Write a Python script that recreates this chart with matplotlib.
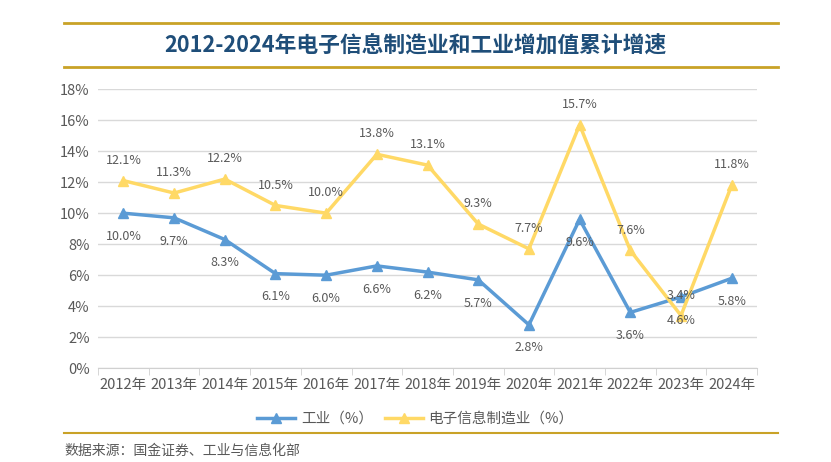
import matplotlib.pyplot as plt
import numpy as np

plt.rcParams['font.family'] = ['Noto Sans CJK SC', 'DejaVu Sans']

years = ['2012年', '2013年', '2014年', '2015年', '2016年', '2017年', '2018年',
         '2019年', '2020年', '2021年', '2022年', '2023年', '2024年']
industry = [10.0, 9.7, 8.3, 6.1, 6.0, 6.6, 6.2, 5.7, 2.8, 9.6, 3.6, 4.6, 5.8]
electronics = [12.1, 11.3, 12.2, 10.5, 10.0, 13.8, 13.1, 9.3, 7.7, 15.7, 7.6, 3.4, 11.8]
yticks = [0, 2, 4, 6, 8, 10, 12, 14, 16, 18]

blue = '#5B9BD5'
yellow = '#FFD966'
gold = '#C9A227'
txt = '#595959'

fig = plt.figure(figsize=(8.31, 4.62), dpi=100)
ax = fig.add_axes([0.118, 0.203, 0.793, 0.604])

x = np.arange(len(years))
ax.plot(x, industry, color=blue, lw=2.5, marker='^', ms=7, label='工业（%）')
ax.plot(x, electronics, color=yellow, lw=2.5, marker='^', ms=7, label='电子信息制造业（%）')

# labels: industry below the points, electronics above
for i, v in enumerate(industry):
    ax.annotate(f'{v:.1f}%', (i, v), xytext=(0, -12), textcoords='offset points',
                ha='center', va='top', fontsize=9, color=txt)
for i, v in enumerate(electronics):
    ax.annotate(f'{v:.1f}%', (i, v), xytext=(0, 10), textcoords='offset points',
                ha='center', va='bottom', fontsize=9, color=txt)

ax.set_xlim(-0.5, len(years) - 0.5)
ax.set_ylim(0, 18)
ax.set_yticks(yticks)
ax.set_yticklabels([f'{t}%' for t in yticks], fontsize=10.5, color=txt)
ax.set_xticks(x)
ax.set_xticklabels(years, fontsize=10.5, color=txt)
ax.set_xticks(np.arange(-0.5, len(years)), minor=True)
ax.tick_params(axis='x', which='major', length=0, pad=7)
ax.tick_params(axis='x', which='minor', length=5, color='#D0D0D0')
ax.tick_params(axis='y', length=0, pad=6)
ax.grid(axis='y', color='#D9D9D9', lw=1)
ax.set_axisbelow(True)
for s in ['top', 'right', 'left']:
    ax.spines[s].set_visible(False)
ax.spines['bottom'].set_color('#D0D0D0')

fig.legend(loc='center', bbox_to_anchor=(0.5, 0.093), ncol=2, frameon=False,
           fontsize=10.5, labelcolor=txt, handlelength=2.6, columnspacing=0.8,
           handletextpad=0.4)

fig.add_artist(plt.Line2D([0.077, 0.936], [0.950, 0.950], color=gold, lw=2))
fig.add_artist(plt.Line2D([0.077, 0.936], [0.856, 0.856], color=gold, lw=2))
fig.add_artist(plt.Line2D([0.077, 0.936], [0.063, 0.063], color=gold, lw=1.5))
fig.text(0.5, 0.903, '2012-2024年电子信息制造业和工业增加值累计增速', ha='center', va='center',
         fontsize=15.7, fontweight='bold', color='#1F4E79')
fig.text(0.077, 0.025, '数据来源：国金证券、工业与信息化部', ha='left', va='center',
         fontsize=10, color=txt)

fig.savefig('out.png', dpi=100)
